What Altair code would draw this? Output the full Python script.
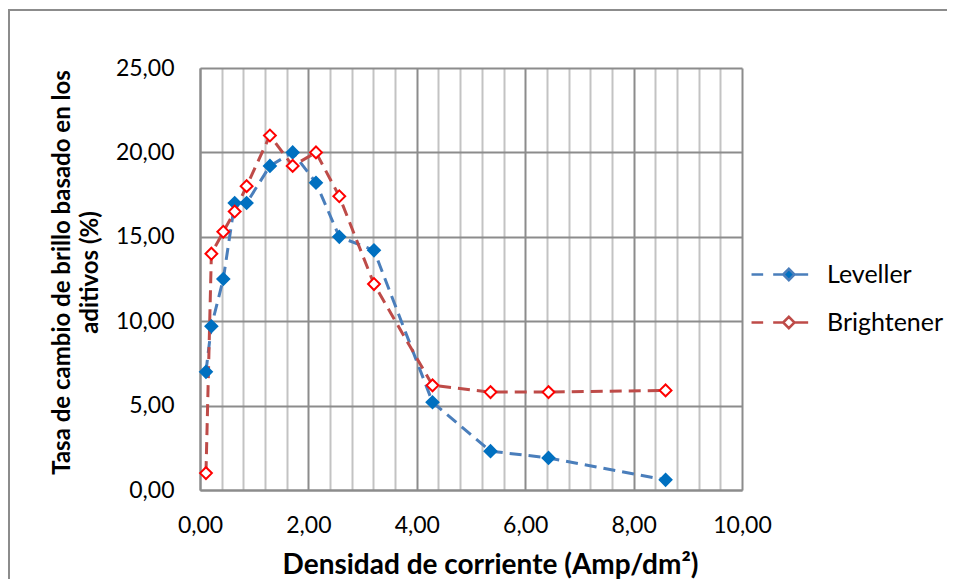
import altair as alt
import pandas as pd

# Data
densidad = [0.11, 0.21, 0.43, 0.64, 0.86, 1.29, 1.71, 2.14, 2.57, 3.21, 4.29, 5.36, 6.43, 8.59]
leveller = [7.0, 9.7, 12.5, 17.0, 17.0, 19.2, 20.0, 18.2, 15.0, 14.2, 5.2, 2.3, 1.9, 0.6]
brightener = [1.0, 14.0, 15.3, 16.5, 18.0, 21.0, 19.2, 20.0, 17.4, 12.2, 6.2, 5.8, 5.8, 5.9]
series = ["Leveller", "Brightener"]
x_ticks = [round(0.4 * k, 1) for k in range(26)]
y_ticks = [0, 5, 10, 15, 20, 25]

rows = []
for s, vals in zip(series, [leveller, brightener]):
    for x, y in zip(densidad, vals):
        rows.append({"serie": s, "x": x, "y": y})
df = pd.DataFrame(rows)

FONT = "Lato"
fmt = "replace(format(datum.value, '.2f'), '.', ',')"
is_major = "abs(datum.value/2 - round(datum.value/2)) < 0.001"

x_enc = alt.X(
    "x:Q",
    scale=alt.Scale(domain=[0, 10], nice=False),
    axis=alt.Axis(
        values=x_ticks,
        tickCount=40,
        labelExpr=f"{is_major} ? {fmt} : ''",
        labelOverlap=False,
        labelFlush=False,
        title="Densidad de corriente (Amp/dm²)",
        grid=True,
        gridColor={"condition": {"test": is_major, "value": "#8c8c8c"}, "value": "#c3c3c3"},
        gridWidth=2,
        ticks=False,
        domainColor="#8c8c8c",
        domainWidth=2,
        labelPadding=24,
        titlePadding=14,
        titleFontSize=28,
        titleX=290,
    ),
)
y_enc = alt.Y(
    "y:Q",
    scale=alt.Scale(domain=[0, 25], nice=False),
    axis=alt.Axis(
        values=y_ticks,
        labelExpr=fmt,
        labelOverlap=False,
        title=["Tasa de cambio de brillo basado en los", "aditivos (%)"],
        grid=True,
        gridColor="#8c8c8c",
        gridWidth=2,
        ticks=False,
        domainColor="#8c8c8c",
        domainWidth=2,
        labelPadding=26,
        titlePadding=13,
        titleLineHeight=28,
        titleY=204,
    ),
)

dom = series
sym = "M-4.83,0L-2.89,0M-1.22,0L0.45,0M0.45,0L1.39,-0.94L2.33,0L1.39,0.94ZM2.33,0L4.61,0"
leg = alt.Legend(
    title=None,
    orient="none",
    legendX=568,
    legendY=194,
    symbolType=sym,
    symbolSize=144,
    symbolStrokeWidth=2.5,
    labelOffset=34,
    rowPadding=22,
    labelFont=FONT,
    labelFontSize=25,
    labelColor="#000000",
)

lines = alt.Chart(df).mark_line(strokeDash=[12, 7], strokeWidth=3).encode(
    x=x_enc,
    y=y_enc,
    color=alt.Color("serie:N", scale=alt.Scale(domain=dom, range=["#4A7EBB", "#BE4B48"]), legend=leg),
    detail="serie:N",
)

points = alt.Chart(df).mark_point(shape="diamond", size=140, filled=True, strokeWidth=2, opacity=1).encode(
    x="x:Q",
    y="y:Q",
    fill=alt.Fill("serie:N", scale=alt.Scale(domain=dom, range=["#0070C0", "#FFFFFF"]), legend=leg),
    stroke=alt.Stroke("serie:N", scale=alt.Scale(domain=dom, range=["#0070C0", "#FF0000"]), legend=leg),
)

frame = alt.Chart(pd.DataFrame({"a": [0]})).mark_rect(
    fillOpacity=0, stroke="#8c8c8c", strokeWidth=2
).encode(x=alt.value(-191), x2=alt.value(900), y=alt.value(-58), y2=alt.value(700))

chart = alt.layer(frame, lines, points).properties(
    width=542,
    height=422,
    padding={"left": 192, "top": 60, "right": 205, "bottom": 100},
    autosize=alt.AutoSizeParams(type="none"),
).configure_view(stroke=None).configure_axis(
    labelFont=FONT,
    labelFontSize=23,
    labelColor="#000000",
    titleFont=FONT,
    titleFontSize=24,
    titleFontWeight="bold",
    titleColor="#000000",
)

chart.save("out.html", embed_options={"renderer": "svg", "actions": False})
